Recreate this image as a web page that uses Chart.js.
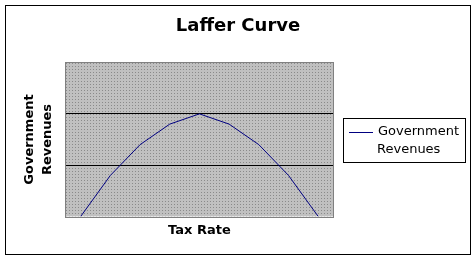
<!DOCTYPE html>
<html>
<head>
<meta charset="utf-8">
<script src="https://cdn.jsdelivr.net/npm/chart.js@4/dist/chart.umd.min.js"></script>
<style>
  html, body { margin: 0; padding: 0; background: #fff; }
  #wrap { position: relative; width: 476px; height: 261px; }
</style>
</head>
<body>
<div id="wrap"><canvas id="chart" width="476" height="261"></canvas></div>
<script>
'use strict'

const taxRates = ['0%', '12.5%', '25%', '37.5%', '50%', '62.5%', '75%', '87.5%', '100%']
const revenues = [0, 40, 70, 90, 100, 90, 70, 40, 0]
const seriesName = ['Government', 'Revenues']
const yTicks = [0, 50, 100, 150]

const chartTitle = 'Laffer Curve'
const xTitle = 'Tax Rate'
const yTitle = ['Government', 'Revenues']

const font = 'DejaVu Sans'

// dotted grey fill, like the old spreadsheet plot area
function makePattern(ctx) {
  const c = document.createElement('canvas')
  c.width = 3
  c.height = 3
  const p = c.getContext('2d')
  p.fillStyle = '#c0c0c0'
  p.fillRect(0, 0, 3, 3)
  p.fillStyle = '#8a8a8a'
  p.fillRect(0, 0, 1, 1)
  return ctx.createPattern(c, 'repeat')
}

const frame = {
  id: 'frame',
  beforeDraw(chart) {
    const { ctx, chartArea: a } = chart
    ctx.save()
    ctx.strokeStyle = '#000'
    ctx.lineWidth = 1
    ctx.strokeRect(5.5, 5.5, 465, 249)
    ctx.fillStyle = makePattern(ctx)
    ctx.fillRect(a.left, a.top, a.right - a.left, a.bottom - a.top)
    ctx.restore()
  },
  beforeDatasetsDraw(chart) {
    const { ctx, chartArea: a } = chart
    ctx.save()
    ctx.strokeStyle = '#808080'
    ctx.lineWidth = 1
    ctx.strokeRect(Math.round(a.left) - 0.5, Math.round(a.top) - 0.5, Math.round(a.right - a.left) + 1, Math.round(a.bottom - a.top) + 1)
    ctx.restore()
  },
  afterDraw(chart) {
    // boxed legend on the right, label split over two lines
    const { ctx } = chart
    ctx.save()
    ctx.strokeStyle = '#000'
    ctx.lineWidth = 1
    ctx.strokeRect(343.5, 118.5, 122, 44)
    ctx.strokeStyle = '#000080'
    ctx.beginPath()
    ctx.moveTo(349, 132.5)
    ctx.lineTo(373, 132.5)
    ctx.stroke()
    ctx.fillStyle = '#000'
    ctx.font = '13px "' + font + '"'
    ctx.textBaseline = 'middle'
    ctx.fillText(seriesName[0], 378, 132)
    ctx.fillText(seriesName[1], 377, 150)
    ctx.restore()
  }
}

new Chart(document.getElementById('chart').getContext('2d'), {
  type: 'line',
  data: {
    labels: taxRates,
    datasets: [{
      label: seriesName.join(' '),
      data: revenues,
      borderColor: '#000080',
      borderWidth: 1,
      pointRadius: 0,
      tension: 0,
      fill: false
    }]
  },
  options: {
    responsive: false,
    animation: false,
    layout: {
      padding: { left: 5, right: 5, top: 0, bottom: 23 }
    },
    plugins: {
      legend: { display: false },
      tooltip: { enabled: false },
      title: {
        display: true,
        text: chartTitle,
        color: '#000',
        font: { family: font, size: 18, weight: 'bold' },
        padding: { top: 16, bottom: 25 }
      }
    },
    scales: {
      x: {
        offset: true,
        grid: { display: false, drawTicks: false },
        border: { display: false },
        ticks: { display: false },
        title: {
          display: true,
          text: xTitle,
          color: '#000',
          font: { family: font, size: 13, weight: 'bold' },
          padding: { top: 6, bottom: 0 }
        }
      },
      y: {
        min: yTicks[0],
        max: yTicks[yTicks.length - 1],
        afterBuildTicks: scale => {
          scale.ticks = yTicks.map(v => ({ value: v }))
        },
        grid: {
          drawTicks: false,
          color: c => (c.tick && (c.tick.value === yTicks[0] || c.tick.value === yTicks[yTicks.length - 1])) ? 'rgba(0,0,0,0)' : '#000'
        },
        border: { display: false },
        ticks: { display: false },
        title: {
          display: true,
          text: yTitle,
          color: '#000',
          font: { family: font, size: 13, weight: 'bold', lineHeight: 1.38 },
          padding: { top: 16, bottom: 9 }
        }
      },
      // empty axis on the right just to leave room for the legend box
      side: {
        position: 'right',
        min: 0,
        max: 1,
        grid: { display: false, drawTicks: false },
        border: { display: false },
        ticks: { display: false },
        afterFit: scale => {
          scale.width = 138
        }
      }
    }
  },
  plugins: [frame]
})
</script>
</body>
</html>
